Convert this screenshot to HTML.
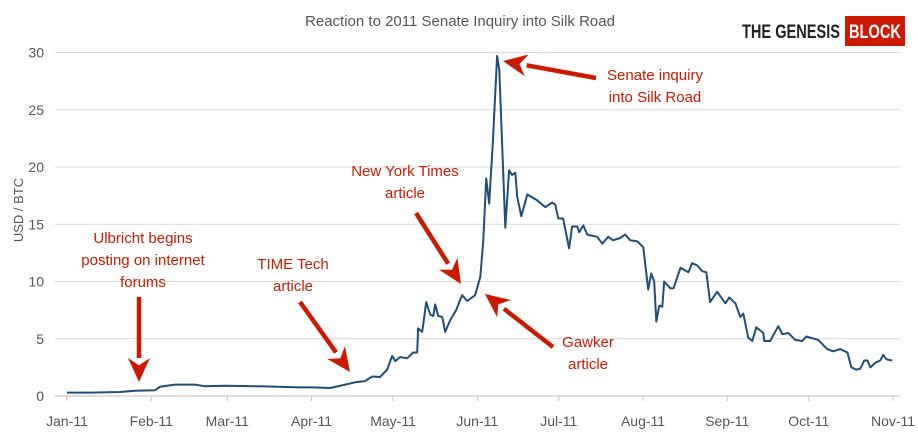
<!DOCTYPE html>
<html><head><meta charset="utf-8"><style>
body{margin:0;background:#fff;}
svg{display:block;font-family:"Liberation Sans",sans-serif;}
</style></head><body>
<svg id="chart" width="918" height="435" viewBox="0 0 918 435">
<text x="460" y="26" text-anchor="middle" font-size="15" fill="#555">Reaction to 2011 Senate Inquiry into Silk Road</text>
<g>
<text x="742" y="38" font-size="19" font-weight="bold" fill="#222" textLength="98" lengthAdjust="spacingAndGlyphs">THE  GENESIS</text>
<rect x="845" y="16" width="60" height="30" fill="#cc1a00"/>
<text x="875" y="38" text-anchor="middle" font-size="19" font-weight="bold" fill="#fff" textLength="52" lengthAdjust="spacingAndGlyphs">BLOCK</text>
</g>
<text transform="translate(23,210) rotate(-90)" text-anchor="middle" font-size="13" fill="#555">USD / BTC</text>
<g id="grid"></g><g id="xaxis"></g><g id="yaxis"></g><g id="series"></g><g id="annot"></g>
</svg>
<script>
const xLabels=["Jan-11","Feb-11","Mar-11","Apr-11","May-11","Jun-11","Jul-11","Aug-11","Sep-11","Oct-11","Nov-11"];
const xTickDays=[0,31,59,90,120,151,181,212,243,273,304];
const yTicks=[0,5,10,15,20,25,30];
const days=[0,8.5,19.5,25,32.4,34.2,39.8,47.1,50.8,58.2,71,85.8,90.6,96.8,102.4,106,109.7,112.3,115.2,117.8,119.7,120.8,122.6,125.2,127.4,128.9,129.2,130.7,131.1,132.2,133.7,134.8,135.5,136.6,138.1,139.2,141,143.2,145.4,147.3,150.2,152.1,153.2,154.3,155.4,156.8,158.3,159.1,161.3,162.7,163.8,165,165.7,167.2,169.4,173,176,178.6,179.7,180.8,182.6,184.8,185.9,187.8,188.5,190,191.5,195.1,197,199.2,201,203.6,205.4,207.3,209.9,212.1,213.9,215,216.1,216.9,218,219.1,219.8,222.1,223.2,225.8,228.7,230.1,232,233.8,235.3,236.7,239.3,242.3,243.7,246,247.8,248.9,250.7,252.2,253.7,256.3,256.6,258.8,261.8,263.3,265.5,268,270.6,272.1,276.5,279.8,282,284.6,287.2,288.7,290.5,292,293.4,294.6,295.7,297.5,299.3,300.4,301.6,303.7];
const prices=[0.3,0.3,0.35,0.45,0.5,0.8,1.0,1.0,0.85,0.9,0.85,0.75,0.75,0.7,1.0,1.2,1.3,1.7,1.66,2.3,3.5,3.05,3.4,3.3,3.8,3.8,5.9,5.6,6.2,8.2,7.1,7.0,8.0,7.0,6.9,5.6,6.6,7.5,8.8,8.3,8.8,10.4,13.6,19.0,16.8,22.4,29.7,28.5,14.7,19.7,19.3,19.5,17.4,15.7,17.6,17.1,16.5,16.9,16.7,15.5,15.5,12.9,14.8,14.8,14.3,14.9,14.1,13.9,13.3,13.9,13.6,13.8,14.1,13.6,13.5,13.0,9.3,10.7,10.0,6.5,7.9,7.8,10.0,9.4,9.4,11.2,10.8,11.6,11.4,10.9,10.8,8.2,9.1,8.1,8.6,8.1,6.9,7.2,5.1,4.8,6.0,5.5,4.8,4.8,6.1,5.4,5.5,4.9,4.8,5.2,4.9,4.1,3.9,4.1,3.8,2.5,2.3,2.4,3.1,3.1,2.5,2.9,3.1,3.6,3.2,3.1];
const NS='http://www.w3.org/2000/svg';
const X0=67,X1=893,Y0=396,PPU=11.45;
const sx=d=>X0+d*(X1-X0)/304;
const sy=v=>Y0-v*PPU;
function mk(tag,attrs,parent){const e=document.createElementNS(NS,tag);for(const k in attrs)e.setAttribute(k,attrs[k]);parent.appendChild(e);return e;}
const grid=document.getElementById('grid'),xa=document.getElementById('xaxis'),ya=document.getElementById('yaxis'),ser=document.getElementById('series'),an=document.getElementById('annot');
yTicks.forEach(v=>{
 if(v>0){const l=mk('line',{x1:55,x2:900,y1:sy(v),y2:sy(v),stroke:'#d9d9d9','stroke-width':1},grid);
 
 }
 const t=mk('text',{x:44,y:sy(v)+5,'text-anchor':'end','font-size':14,fill:'#555'},ya);
 t.textContent=v;
 
 
});
const ax=mk('line',{x1:55,x2:900,y1:Y0,y2:Y0,stroke:'#bfbfbf','stroke-width':1},xa);


xLabels.forEach((lab,i)=>{
 const x=sx(xTickDays[i]);
 const tk=mk('line',{x1:x,x2:x,y1:Y0,y2:Y0+5,stroke:'#bfbfbf'},xa);
 
 
 const t=mk('text',{x:x,y:Y0+30,'text-anchor':'middle','font-size':14,fill:'#555'},xa);
 t.textContent=lab;
 
 
});
const pts=days.map((d,i)=>sx(d).toFixed(1)+','+sy(prices[i]).toFixed(1)).join(' ');
const pl=mk('polyline',{points:pts,fill:'none',stroke:'#1f4e79','stroke-width':2,'stroke-linejoin':'round'},ser);


function arrow(x1,y1,x2,y2,name){
 const a=Math.atan2(y2-y1,x2-x1),L=24,W=11;
 const bx=x2-L*Math.cos(a),by=y2-L*Math.sin(a);
 const g=mk('g',{},an);
 
 
 mk('line',{x1:x1,y1:y1,x2:bx,y2:by,stroke:'#cc1a00','stroke-width':4.5},g);
 const px=-Math.sin(a)*W,py=Math.cos(a)*W;
 mk('polygon',{points:`${x2},${y2} ${bx+px},${by+py} ${bx+0.3*L*Math.cos(a)},${by+0.3*L*Math.sin(a)} ${bx-px},${by-py}`,fill:'#cc1a00'},g);
}
function label(lines,cx,y0,name){
 const t=mk('text',{x:cx,y:y0,'text-anchor':'middle','font-size':15,fill:'#cc1a00'},an);
 
 
 lines.forEach((s,i)=>{const ts=mk('tspan',{x:cx,dy:i?22:0},t);ts.textContent=s;});
}
label(['Ulbricht begins','posting on internet','forums'],143,243,'ulbricht-annotation');
arrow(139,297,139,382,'ulbricht-arrow');
label(['TIME Tech','article'],293,269,'time-annotation');
arrow(300,302,350,372,'time-arrow');
label(['New York Times','article'],405,176,'nyt-annotation');
arrow(416,213,461,284,'nyt-arrow');
label(['Gawker','article'],588,347,'gawker-annotation');
arrow(553,347,485,294,'gawker-arrow');
label(['Senate inquiry','into Silk Road'],655,80,'senate-annotation');
arrow(596,78,503,61,'senate-arrow');
</script>
</body></html>
